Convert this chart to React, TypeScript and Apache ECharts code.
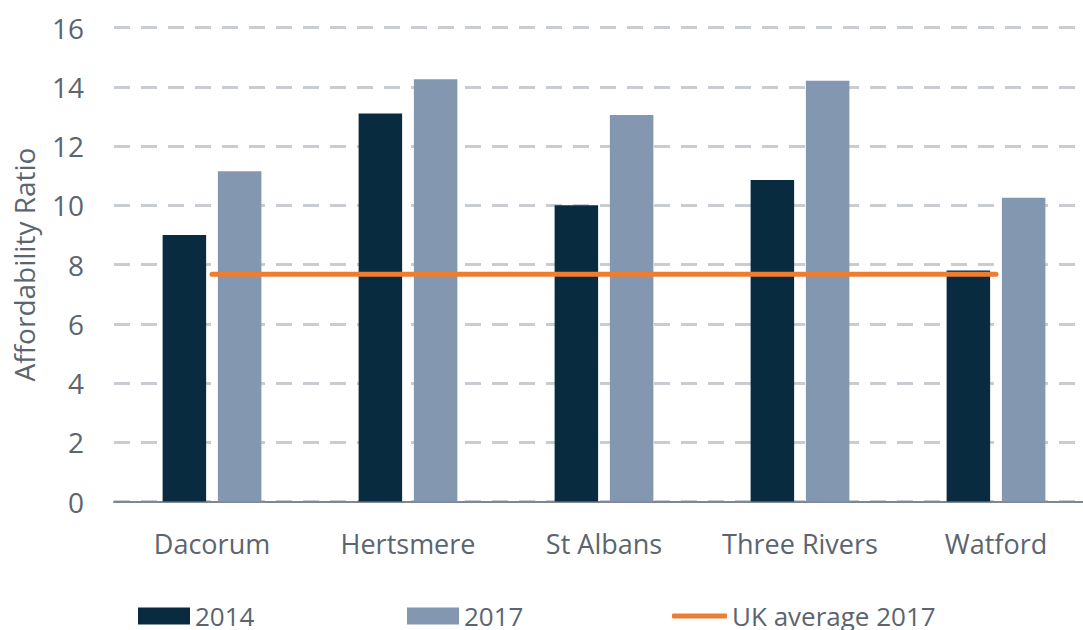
import React, { useEffect, useRef } from "react";
import * as echarts from "echarts";

const categories = ["Dacorum", "Hertsmere", "St Albans", "Three Rivers", "Watford"];
const values2014 = [9.0, 13.1, 10.0, 10.85, 7.8];
const values2017 = [11.15, 14.25, 13.05, 14.2, 10.25];
const ukAverage2017 = [7.67, 7.67, 7.67, 7.67, 7.67];

const TEXT = "#5b6570";
const FONT = "Open Sans";
const FS = 27;

export default function App() {
  const ref = useRef<HTMLDivElement>(null);
  useEffect(() => {
    if (!ref.current) return;
    const chart = echarts.init(ref.current, null, { renderer: "svg" });
    chart.setOption({
      animation: false,
      backgroundColor: "#ffffff",
      textStyle: { fontFamily: FONT },
      grid: { left: 114, right: 6, top: 27.5, bottom: 128.5, containLabel: false, outerBoundsMode: "none" },
      legend: [
        {
          data: ["2014"], left: 138, top: 603, padding: 0, itemWidth: 52, itemHeight: 17,
          icon: "rect", textStyle: { color: TEXT, fontSize: 26, fontFamily: FONT },
        },
        {
          data: ["2017"], left: 407, top: 603, padding: 0, itemWidth: 52, itemHeight: 17,
          icon: "rect", textStyle: { color: TEXT, fontSize: 26, fontFamily: FONT },
        },
        {
          data: ["UK average 2017"], left: 672, top: 603, padding: 0, itemWidth: 55, itemHeight: 5,
          icon: "roundRect", textStyle: { color: TEXT, fontSize: 26, fontFamily: FONT },
        },
      ],
      xAxis: {
        type: "category",
        data: categories,
        axisLine: { lineStyle: { color: "#7f8891", width: 2 } },
        axisTick: { show: false },
        axisLabel: { color: TEXT, fontSize: FS, fontFamily: FONT, margin: 28, interval: 0 },
      },
      yAxis: {
        type: "value",
        min: 0,
        max: 16,
        interval: 2,
        name: "Affordability Ratio",
        nameLocation: "middle",
        nameGap: 76,
        nameTextStyle: { color: TEXT, fontSize: 28, fontFamily: FONT },
        axisLine: { show: false },
        axisTick: { show: false },
        axisLabel: { color: TEXT, fontSize: 28, fontFamily: FONT, margin: 30 },
        splitLine: { lineStyle: { color: "#c9cdd1", width: 3, type: [16, 11] } },
      },
      series: [
        {
          name: "2014", type: "bar", data: values2014, barWidth: "22.2%", barGap: "27%",
          itemStyle: { color: "#092b3f" },
        },
        {
          name: "2017", type: "bar", data: values2017, barWidth: "22.2%",
          itemStyle: { color: "#8497b0" },
        },
        {
          name: "UK average 2017", type: "line", data: ukAverage2017, symbol: "none",
          lineStyle: { color: "#ed7d31", width: 5, cap: "round" },
          itemStyle: { color: "#ed7d31" },
          z: 5,
        },
      ],
    });
    return () => chart.dispose();
  }, []);
  return (
    <div
      ref={ref}
      style={{ position: "fixed", left: 0, top: 0, width: 1100, height: 630, background: "#fff" }}
    />
  );
}
